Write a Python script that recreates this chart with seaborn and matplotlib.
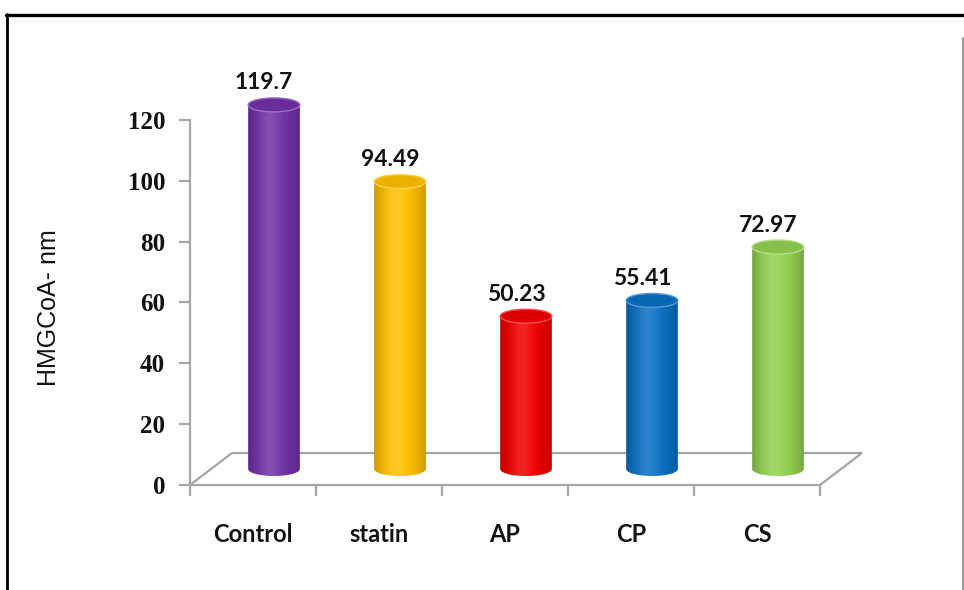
import numpy as np
import pandas as pd
import matplotlib
matplotlib.use("Agg")
import matplotlib.pyplot as plt
import seaborn as sns
from matplotlib.patches import PathPatch, Ellipse, Polygon
from matplotlib.path import Path
from matplotlib.lines import Line2D
from matplotlib.colors import to_rgb

# ---- data -------------------------------------------------------------
groups = ["Control", "statin", "AP", "CP", "CS"]
hmgcoa = [119.7, 94.49, 50.23, 55.41, 72.97]
bar_colors = ["#7232A8", "#FFC000", "#F00000", "#0A70C4", "#92D050"]
y_ticks = [0, 20, 40, 60, 80, 100, 120]
y_label = "HMGCoA- nm"

sns.set_style("white")
plt.rcParams["font.family"] = ["DejaVu Sans"]

GRID = "#a6a6a6"

# ---- figure & axes geometry (pixels) -----------------------------------
W, H = 964, 590
fig = plt.figure(figsize=(W / 100, H / 100), dpi=100)
ax_left_px, ax_base_px, ax_w_px = 190, 485, 630
ppy = 3.042          # pixels per data unit on the value axis
ymax = 140
ax_h_px = ymax * ppy
ax = fig.add_axes([ax_left_px / W, (H - ax_base_px) / H, ax_w_px / W, ax_h_px / H])

df = pd.DataFrame({"group": groups, "value": hmgcoa})
sns.barplot(data=df, x="group", y="value", hue="group", palette=bar_colors,
            width=0.41, saturation=1, legend=False, ax=ax)

ppx = ax_w_px / len(groups)
dx = 42 / ppx        # depth of the 3-D floor in data units
dy = 32 / ppy
ell_h = 14 / ppy     # height of the cylinder caps

# ---- floor ---------------------------------------------------------------
floor = Polygon([(-0.5, 0), (-0.5 + dx, dy), (4.5 + dx, dy), (4.5, 0)],
                closed=True, facecolor="white", edgecolor=GRID, lw=1.6,
                zorder=1, clip_on=False)
ax.add_patch(floor)


def shade(base, n=240):
    t = np.linspace(0, 1, n)
    s = np.sin(np.pi * t) ** 0.6
    b = np.array(to_rgb(base))
    col = b[None, :] * (0.76 + 0.24 * s[:, None])
    hl = 0.14 * np.exp(-((t - 0.42) / 0.2) ** 2)
    col = col + (1 - col) * hl[:, None]
    return np.clip(col, 0, 1)[None, :, :]


# ---- cylinders built from the seaborn bars --------------------------------
for patch, color in zip(ax.patches, bar_colors):
    w = patch.get_width()
    v = patch.get_height()
    x0 = patch.get_x() + dx / 2
    cx = x0 + w / 2
    base = dy / 2
    top = base + v
    patch.set_visible(False)

    th = np.linspace(np.pi, 2 * np.pi, 60)
    pts = [(cx + w / 2 * np.cos(a), base + ell_h / 2 * np.sin(a)) for a in th]
    pts += [(x0 + w, top), (x0, top), pts[0]]
    body = PathPatch(Path(pts), facecolor="none", edgecolor="none",
                     transform=ax.transData, zorder=3)
    ax.add_patch(body)
    im = ax.imshow(shade(color), extent=[x0, x0 + w, base - ell_h / 2, top],
                   aspect="auto", origin="lower", interpolation="bilinear",
                   zorder=3)
    im.set_clip_path(body)

    b = np.array(to_rgb(color))
    cap = Ellipse((cx, top), w, ell_h, facecolor=b * 0.92,
                  edgecolor=b + (1 - b) * 0.3, lw=1.0, zorder=4)
    ax.add_patch(cap)

# ---- value labels ---------------------------------------------------------
for i, v in enumerate(hmgcoa):
    ax.annotate(f"{v:g}", xy=(i, v), xytext=(11, 38), textcoords="offset pixels",
                ha="center", va="center", fontsize=16.5, fontweight="bold",
                family="Lato", color="#111111", annotation_clip=False)

# ---- axes styling ---------------------------------------------------------
ax.set_xlim(-0.5, 4.5)
ax.set_ylim(0, ymax)
for side in ("top", "right", "bottom"):
    ax.spines[side].set_visible(False)
ax.spines["left"].set_color(GRID)
ax.spines["left"].set_linewidth(1.6)
ax.spines["left"].set_bounds(0, 120)

ax.set_yticks(y_ticks)
ax.set_yticklabels([str(t) for t in y_ticks], family="Liberation Serif",
                   fontweight="bold", fontsize=18)
ax.tick_params(axis="y", length=8, width=1.6, color=GRID, pad=10,
               left=True, labelcolor="#111111")

ax.set_xticks(range(len(groups)))
ax.set_xticklabels(groups, family="Lato", fontweight="bold", fontsize=17)
ax.set_xticks(np.arange(-0.5, len(groups), 1.0), minor=True)
ax.tick_params(axis="x", which="major", length=0, pad=27, labelcolor="#111111")
ax.tick_params(axis="x", which="minor", length=8, width=1.6, color=GRID,
               bottom=True)
ax.set_xlabel("")

ax.set_ylabel(y_label, family="Liberation Sans", fontsize=18, color="#111111")
ax.yaxis.set_label_coords((61 - ax_left_px) / ax_w_px,
                          (ax_base_px - 308) / ax_h_px)

# ---- outer frame ------------------------------------------------------------
def fx(px):
    return px / W


def fy(py):
    return 1 - py / H


fig.add_artist(Line2D([fx(5.5), fx(964)], [fy(14.5), fy(14.5)], color="black", lw=2.4))
fig.add_artist(Line2D([fx(6.8), fx(6.8)], [fy(13.5), fy(590)], color="black", lw=2.0))
fig.add_artist(Line2D([fx(962.5), fx(962.5)], [fy(38), fy(590)], color="#999999", lw=1.4))

fig.savefig("out.png", dpi=100)
